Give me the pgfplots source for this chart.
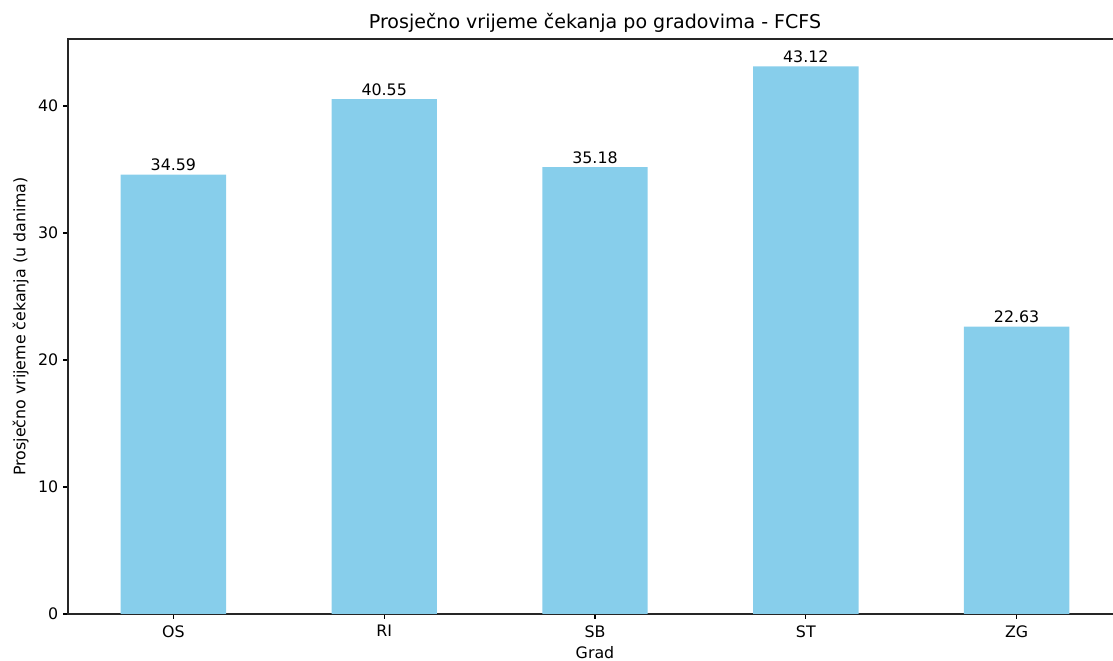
\documentclass[border=0pt]{standalone}
\usepackage{fontspec}
\setmainfont{DejaVu Sans}
\usepackage{pgfplots}
\pgfplotsset{compat=1.18}
\definecolor{skyblue}{HTML}{87CEEB}
\begin{document}
\begin{tikzpicture}
\begin{axis}[
    scale only axis,
    width=758.9pt, height=414pt,
    xmin=-0.5, xmax=4.5, ymin=0, ymax=45.276,
    xtick={0,...,4}, xticklabels={OS,RI,SB,ST,ZG},
    ytick={0,10,20,30,40},
    tick align=outside, tick pos=left,
    major tick length=3.5pt,
    every tick/.style={black, line width=0.8pt},
    axis line style={line width=0.8pt, black!85},
    tick label style={font=\fontsize{11.4}{13}\selectfont},
    xticklabel style={yshift=-1.2pt},
    /pgf/number format/assume math mode=true,
    xlabel={Grad},
    ylabel={Prosječno vrijeme čekanja (u danima)},
    label style={font=\fontsize{11.4}{13}\selectfont},
    xlabel style={yshift=0pt},
    title={Prosječno vrijeme čekanja po gradovima - FCFS},
    title style={font=\fontsize{13.7}{16}\selectfont, yshift=-4.5pt},
    ybar, bar width=0.5,
    nodes near coords={\pgfmathprintnumber[fixed,fixed zerofill,precision=2]{\pgfplotspointmeta}},
    every node near coord/.append style={font=\fontsize{11.4}{13}\selectfont, anchor=south, inner sep=2.4pt},
]
\addplot[fill=skyblue, draw=none] coordinates {(0,34.59) (1,40.55) (2,35.18) (3,43.12) (4,22.63)};
\coordinate (sw) at (rel axis cs:0,0);
\coordinate (ne) at (rel axis cs:1,1);
\end{axis}
\pgfresetboundingbox
\path ([shift={(-48.96pt,-33.84pt)}]sw) rectangle ([shift={(-6.48pt,28.08pt)}]ne);
\end{tikzpicture}
\end{document}
